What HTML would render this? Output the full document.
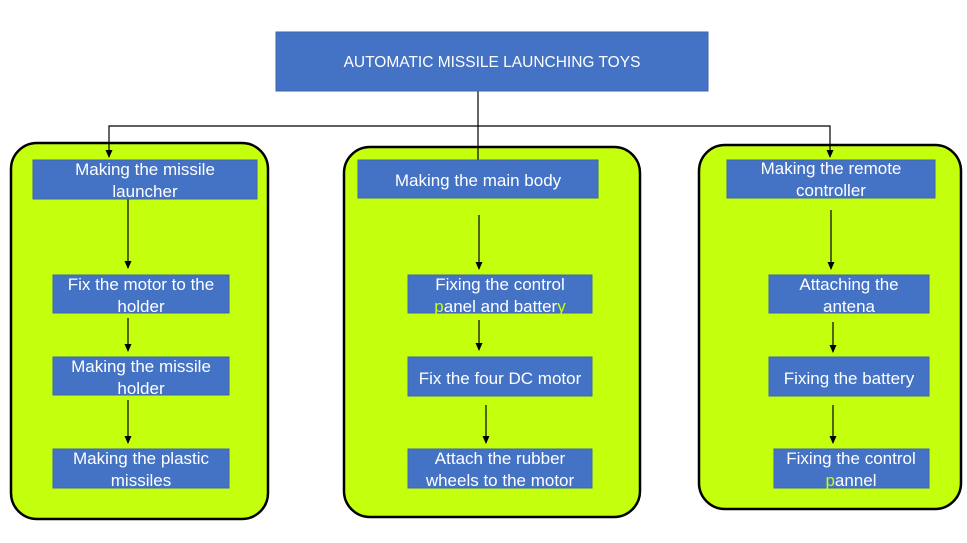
<!DOCTYPE html>
<html><head><style>
body{margin:0;background:#fff;}
svg text{font-family:"Liberation Sans",sans-serif;fill:#fff;font-size:17px;text-anchor:middle;}
</style></head><body>
<svg width="967" height="538" xmlns="http://www.w3.org/2000/svg">
<defs>
<marker id="b" markerWidth="8" markerHeight="8" refX="7" refY="4" orient="auto" markerUnits="userSpaceOnUse"><path d="M0,0.5 L8,4 L0,7.5 Z" fill="#000"/></marker></defs>
<g fill="#c4ff0e" stroke="#000" stroke-width="2.5">
<rect x="11" y="143" width="257" height="376" rx="26"/>
<rect x="344" y="147" width="296" height="370" rx="26"/>
<rect x="699" y="145" width="262" height="364" rx="26"/>
</g>
<g stroke="#000" stroke-width="1.2" fill="none">
<line x1="478" y1="91" x2="478" y2="160"/>
<polyline points="478,126 109,126 109,157" marker-end="url(#b)"/>
<polyline points="478,126 830,126 830,157" marker-end="url(#b)"/>
<line x1="128" y1="185" x2="128" y2="268" marker-end="url(#b)"/>
<line x1="128" y1="318" x2="128" y2="351" marker-end="url(#b)"/>
<line x1="128" y1="400" x2="128" y2="443" marker-end="url(#b)"/>
<line x1="479" y1="215" x2="479" y2="269" marker-end="url(#b)"/>
<line x1="479" y1="320" x2="479" y2="350" marker-end="url(#b)"/>
<line x1="486" y1="405" x2="486" y2="443" marker-end="url(#b)"/>
<line x1="831" y1="210" x2="831" y2="269" marker-end="url(#b)"/>
<line x1="833" y1="322" x2="833" y2="352" marker-end="url(#b)"/>
<line x1="833" y1="405" x2="833" y2="443" marker-end="url(#b)"/>
</g>
<g fill="#4472c4" stroke="#3f65ad" stroke-width="1">
<rect x="276" y="32" width="432" height="59"/>
<rect x="33" y="160" width="224" height="39"/>
<rect x="53" y="275" width="176" height="38"/>
<rect x="53" y="357" width="176" height="38"/>
<rect x="53" y="449" width="176" height="39"/>
<rect x="358" y="160" width="240" height="38"/>
<rect x="408" y="275" width="184" height="38"/>
<rect x="408" y="357" width="184" height="39"/>
<rect x="408" y="449" width="184" height="39"/>
<rect x="727" y="160" width="208" height="38"/>
<rect x="769" y="275" width="160" height="38"/>
<rect x="769" y="357" width="160" height="39"/>
<rect x="774" y="449" width="155" height="39"/>
</g>
<text x="492" y="67" style="font-size:15.5px">AUTOMATIC MISSILE LAUNCHING TOYS</text>
<text x="145" y="175">Making the missile</text><text x="145" y="197">launcher</text>
<text x="141" y="290">Fix the motor to the</text><text x="141" y="312">holder</text>
<text x="141" y="372">Making the missile</text><text x="141" y="394">holder</text>
<text x="141" y="464">Making the plastic</text><text x="141" y="486">missiles</text>
<text x="478" y="186">Making the main body</text>
<text x="500" y="290">Fixing the control</text><text x="500" y="312"><tspan style="fill:#c4ff0e">p</tspan>anel and batter<tspan style="fill:#c4ff0e">y</tspan></text>
<text x="500" y="384">Fix the four DC motor</text>
<text x="500" y="464">Attach the rubber</text><text x="500" y="486">wheels to the motor</text>
<text x="831" y="174">Making the remote</text><text x="831" y="196">controller</text>
<text x="849" y="290">Attaching the</text><text x="849" y="312">antena</text>
<text x="849" y="384">Fixing the battery</text>
<text x="851" y="464">Fixing the control</text><text x="851" y="486"><tspan style="fill:#c4ff0e">p</tspan>annel</text>
</svg>
</body></html>
